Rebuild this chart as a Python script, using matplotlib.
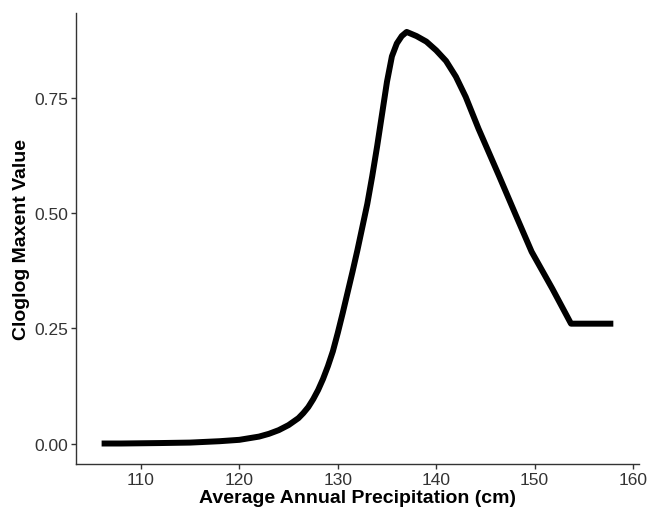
import numpy as np
import matplotlib.pyplot as plt

plt.rcParams['font.family'] = ['Liberation Sans', 'DejaVu Sans']

# response curve
precip = [106, 108, 110, 112, 115, 118, 120, 122, 123, 124, 125, 126, 126.5, 127,
          127.5, 128, 128.5, 129, 129.5, 130, 130.5, 131, 131.5, 132, 132.5, 133,
          133.5, 134, 134.5, 135, 135.5, 136, 136.5, 137, 138, 139, 140, 141,
          142, 143, 144.3, 146.4, 148.1, 149.7, 151.8, 153.7, 156, 158]
cloglog = [0.0, 0.0, 0.0005, 0.001, 0.002, 0.005, 0.008, 0.015, 0.021, 0.029,
           0.04, 0.055, 0.066, 0.079, 0.096, 0.116, 0.14, 0.168, 0.2, 0.24,
           0.283, 0.328, 0.373, 0.42, 0.47, 0.52, 0.58, 0.645, 0.715, 0.785,
           0.84, 0.868, 0.884, 0.893, 0.884, 0.872, 0.853, 0.83, 0.796, 0.752,
           0.683, 0.58, 0.495, 0.416, 0.336, 0.26, 0.26, 0.26]

xticks = [110, 120, 130, 140, 150, 160]
yticks = [0.0, 0.25, 0.5, 0.75]

fig = plt.figure(figsize=(6.47, 5.10), dpi=100)
ax = fig.add_axes([0.1175, 0.0882, 0.87, 0.8843])

ax.plot(precip, cloglog, color='black', linewidth=4.3, solid_capstyle='butt',
        solid_joinstyle='round')

ax.set_xlim(103.4, 160.6)
ax.set_ylim(-0.0445, 0.934)
ax.set_xticks(xticks)
ax.set_yticks(yticks)
ax.set_yticklabels(['%.2f' % v for v in yticks])

for s in ['top', 'right']:
    ax.spines[s].set_visible(False)
for s in ['left', 'bottom']:
    ax.spines[s].set_color('#333333')
    ax.spines[s].set_linewidth(1.0)
ax.tick_params(colors='#333333', labelcolor='#333333', labelsize=12.5,
               length=3.5, width=1.0, pad=2)

ax.set_xlabel('Average Annual Precipitation (cm)', fontsize=14, fontweight='bold',
              labelpad=2)
ax.set_ylabel('Cloglog Maxent Value', fontsize=14, fontweight='bold', labelpad=3)

fig.savefig('out.png', dpi=100)
